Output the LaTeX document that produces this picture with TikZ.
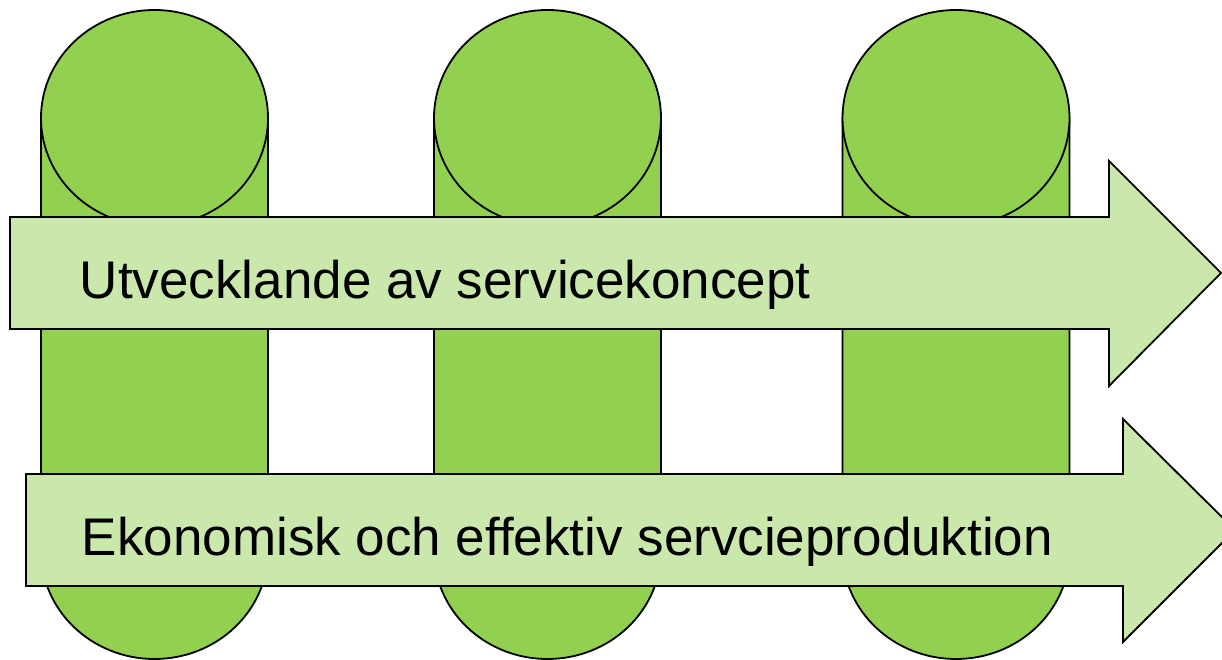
\documentclass[tikz,border=0pt]{standalone}
\usepackage{fontspec}
\setmainfont{Liberation Sans}
\definecolor{cangreen}{RGB}{146,208,80}
\definecolor{bandgreen}{RGB}{202,232,172}
\begin{document}
\begin{tikzpicture}[x=1pt, y=1pt, line width=1.8pt,
  can/.style={fill=cangreen, draw=black},
  band/.style={fill=bandgreen, draw=black, line join=miter},
  band text/.style={anchor=base west, inner sep=0pt, font=\fontsize{53}{60}\selectfont}]
  \useasboundingbox (0,0) rectangle (1222,660);
  \clip (0,0) rectangle (1222,660);

  % three cans
  \foreach \cx in {154.5, 547.5, 956} {
    \draw[can] (\cx-113.5,542) -- (\cx-113.5,109)
      arc[start angle=180, end angle=360, x radius=113.5pt, y radius=108pt]
      -- (\cx+113.5,542) -- cycle;
    \draw[can] (\cx,542) ellipse [x radius=113.5pt, y radius=108pt];
  }

  % two arrows
  \draw[band] (10,331) -- (1109,331) -- (1109,274) -- (1221,387)
    -- (1109,499) -- (1109,443) -- (10,443) -- cycle;
  \draw[band] (26,74) -- (1123,74) -- (1123,18) -- (1235,130)
    -- (1123,241) -- (1123,186) -- (26,186) -- cycle;

  \node[band text] (utv) at (79,361) {Utvecklande av servicekoncept};
  \node[band text] (eko) at (81,104) {Ekonomisk och effektiv servcieproduktion};
\end{tikzpicture}
\end{document}
